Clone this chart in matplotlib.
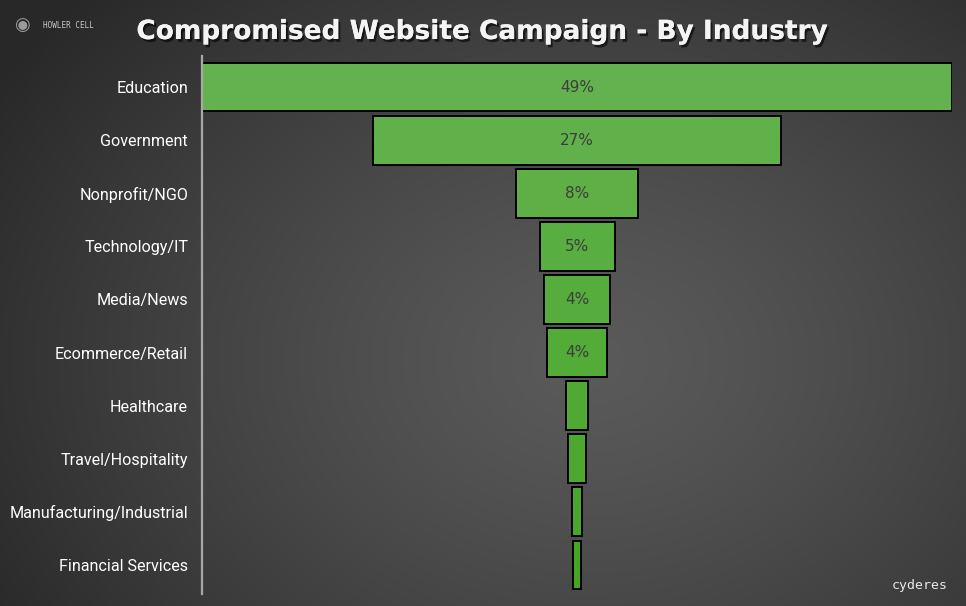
import numpy as np
import matplotlib
matplotlib.use("Agg")
import matplotlib.pyplot as plt
from matplotlib import patheffects as pe

categories = ["Education", "Government", "Nonprofit/NGO", "Technology/IT", "Media/News",
              "Ecommerce/Retail", "Healthcare", "Travel/Hospitality",
              "Manufacturing/Industrial", "Financial Services"]
values = [49.0, 26.7, 8.0, 4.9, 4.25, 3.9, 1.45, 1.2, 0.68, 0.48]
label_min = 3.5

W, H = 966, 606
fig = plt.figure(figsize=(W / 100, H / 100), dpi=100)

# background radial gradient
bg = fig.add_axes([0, 0, 1, 1])
yy, xx = np.mgrid[0:H, 0:W]
cx, cy = 590, 360
r = np.sqrt(((xx - cx) / 560) ** 2 + ((yy - cy) / 430) ** 2)
c_in, c_out = 0x5a / 255, 0x28 / 255
v = c_in + (c_out - c_in) * np.clip(r / 1.25, 0, 1) ** 1.3
img = np.dstack([v, v, v])
bg.imshow(img, extent=[0, W, H, 0], aspect="auto")
bg.set_xlim(0, W)
bg.set_ylim(H, 0)
bg.axis("off")

lab_font = "Roboto"

left, right = 202 / W, 952 / W
top, bottom = 60.5 / H, 591.5 / H
ax = fig.add_axes([left, 1 - bottom, right - left, bottom - top])
ax.patch.set_alpha(0)

n = len(categories)
ypos = np.arange(n)
c_top = np.array([0x63, 0xb2, 0x4f]) / 255
c_bot = np.array([0x46, 0xa5, 0x25]) / 255
colors = [c_top + (c_bot - c_top) * i / (n - 1) for i in range(n)]
ax.barh(ypos, values, left=[-v_ / 2 for v_ in values], height=0.92,
        color=colors, edgecolor="black", linewidth=1.4)
for y, v_ in zip(ypos, values):
    if v_ >= label_min:
        ax.text(0, y, f"{v_:.0f}%", ha="center", va="center", fontsize=11,
                color="#3d3d3d", family="DejaVu Sans")

ax.set_xlim(-values[0] / 2, values[0] / 2)
ax.set_ylim(n - 0.5, -0.5)
ax.set_yticks(ypos)
ax.set_yticklabels(categories, fontsize=11.6, color="white", family=lab_font)
ax.tick_params(axis="y", length=0, pad=10)
ax.set_xticks([])
for s in ["top", "right", "bottom"]:
    ax.spines[s].set_visible(False)
ax.spines["left"].set_color("#a8a8a8")
ax.spines["left"].set_linewidth(1.6)
ax.spines["left"].set_bounds(n - 0.45, -0.58)

# title
fig.text(482 / W, 1 - 32 / H, "Compromised Website Campaign - By Industry",
         ha="center", va="center", fontsize=19, fontweight="bold", color="#f4f4f4",
         family="DejaVu Sans",
         path_effects=[pe.withSimplePatchShadow(offset=(1.5, -2), shadow_rgbFace="black", alpha=0.6),
                       pe.Normal()])

# branding
fig.text(43 / W, 1 - 25 / H, "HOWLER CELL", ha="left", va="center", fontsize=5.5,
         color="#c8c8c8", family="DejaVu Sans Mono")
fig.text(22 / W, 1 - 25 / H, "\u25c9", ha="center", va="center", fontsize=13,
         color="#9a9a9a", family="DejaVu Sans")
fig.text(948 / W, 1 - 586 / H, "cyderes", ha="right", va="center", fontsize=9.5,
         color="#e8e8e8", family="DejaVu Sans Mono")

fig.savefig("out.png", dpi=100)
